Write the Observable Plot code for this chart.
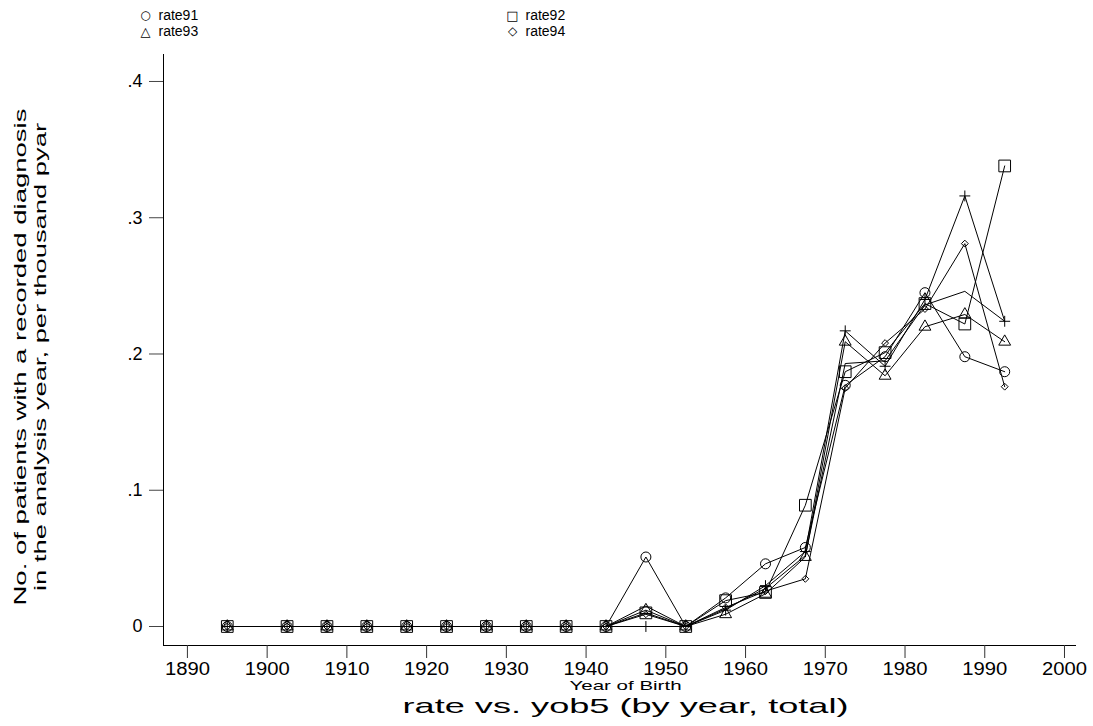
<!DOCTYPE html>
<html>
<head>
<meta charset="utf-8">
<script src="https://cdn.jsdelivr.net/npm/d3@7"></script>
<script src="https://cdn.jsdelivr.net/npm/@observablehq/plot@0.6"></script>
<style>
  html, body { margin: 0; padding: 0; background: #fff; }
  #chart { width: 1093px; height: 726px; }
</style>
</head>
<body>
<div id="chart"></div>
<script>
// ---- data ----
const yob5 = [1895, 1902.5, 1907.5, 1912.5, 1917.5, 1922.5, 1927.5, 1932.5, 1937.5, 1942.5,
              1947.5, 1952.5, 1957.5, 1962.5, 1967.5, 1972.5, 1977.5, 1982.5, 1987.5, 1992.5];
const rate91 = [0,0,0,0,0,0,0,0,0,0, 0.051, 0, 0.021, 0.046, 0.058, 0.177, 0.198, 0.245, 0.198, 0.187];
const rate92 = [0,0,0,0,0,0,0,0,0,0, 0.010, 0, 0.019, 0.025, 0.089, 0.187, 0.201, 0.237, 0.222, 0.338];
const rate93 = [0,0,0,0,0,0,0,0,0,0, 0.012, 0, 0.009, 0.024, 0.051, 0.209, 0.184, 0.220, 0.229, 0.209];
const rate94 = [0,0,0,0,0,0,0,0,0,0, 0.009, 0, 0.014, 0.026, 0.035, 0.175, 0.208, 0.233, 0.281, 0.176];
const rate95 = [0,0,0,0,0,0,0,0,0,0, 0.000, 0, 0.012, 0.030, 0.055, 0.217, 0.191, 0.240, 0.316, 0.224];
const total  = [0,0,0,0,0,0,0,0,0,0, 0.015, 0, 0.013, 0.028, 0.052, 0.193, 0.195, 0.236, 0.246, 0.224];

const seriesNames = ["rate91", "rate92", "rate93", "rate94", "rate95", "total"];
const seriesValues = [rate91, rate92, rate93, rate94, rate95, total];
const seriesSymbols = ["circle", "square", "triangle", "diamond2", "plus", null];
const seriesSymbolR = [5, 6.6, 4.4, 3.1, 3.6, 0];

const legendNames = ["rate91", "rate92", "rate93", "rate94"];
const legendGlyphs = ["○", "□", "△", "◇"];
const legendGlyphSizes = [12, 13, 13, 12];

const xTicks = [1890, 1900, 1910, 1920, 1930, 1940, 1950, 1960, 1970, 1980, 1990, 2000];
const yTicks = [0, 0.1, 0.2, 0.3, 0.4];
const yTickLabels = ["0", ".1", ".2", ".3", ".4"];

const titleText = "rate vs. yob5 (by year, total)";
const xLabelText = "Year of Birth";
const yLabelLine1 = "No. of patients with a recorded diagnosis";
const yLabelLine2 = "in the analysis year, per thousand pyar";

// ---- table ----
const rows = seriesNames.flatMap((name, i) =>
  yob5.map((yr, j) => ({series: name, yob5: yr, rate: seriesValues[i][j]})));

const font = "Liberation Sans, Arial, Helvetica, sans-serif";

const marks = [
  Plot.frame({anchor: "left", stroke: "black"}),
  Plot.frame({anchor: "bottom", stroke: "black"}),
  Plot.axisY({ticks: yTicks, tickFormat: d => yTickLabels[yTicks.indexOf(d)], tickSize: 14,
              tickPadding: 7, fontSize: 18, stroke: "#444", label: null}),
  Plot.axisX({ticks: xTicks, tickFormat: d => String(d), tickSize: 13, tickPadding: 4,
              fontSize: 18, stroke: "#333", label: null}),
  Plot.line(rows, {x: "yob5", y: "rate", z: "series", stroke: "black", strokeWidth: 1})
];

seriesNames.forEach((name, i) => {
  if (!seriesSymbols[i]) return;
  marks.push(Plot.dot(rows.filter(d => d.series === name), {
    x: "yob5", y: "rate", symbol: seriesSymbols[i], r: seriesSymbolR[i],
    stroke: "black", fill: "none", strokeWidth: 1
  }));
});

// legend (two columns, two rows above the plot)
const legendOffsets = [[-18, -44], [349, -44], [-18, -28], [349, -28]];
legendNames.forEach((name, i) => {
  const [dx, dy] = legendOffsets[i];
  marks.push(Plot.text([legendGlyphs[i]], {frameAnchor: "top-left", dx, dy, text: d => d,
    fontSize: legendGlyphSizes[i], fontFamily: "DejaVu Sans", fill: "black", textAnchor: "middle"}));
  marks.push(Plot.text([name], {frameAnchor: "top-left", dx: dx + 13, dy, text: d => d,
    fontSize: 14, fill: "black", textAnchor: "start"}));
});

// titles
marks.push(Plot.text([titleText], {frameAnchor: "bottom", dx: 6, dy: 67, text: d => d,
  fontSize: 21, fill: "black", textAnchor: "middle"}));
marks.push(Plot.text([xLabelText], {frameAnchor: "bottom", dx: 6, dy: 44, text: d => d,
  fontSize: 13, fill: "black", textAnchor: "middle"}));
marks.push(Plot.text([yLabelLine1], {frameAnchor: "left", dx: -143, dy: 7, rotate: -90, text: d => d,
  fontSize: 16, fill: "black", textAnchor: "middle"}));
marks.push(Plot.text([yLabelLine2], {frameAnchor: "left", dx: -123, dy: 7, rotate: -90, text: d => d,
  fontSize: 16, fill: "black", textAnchor: "middle"}));

const chart = Plot.plot({
  width: 1093,
  height: 726,
  marginLeft: 163,
  marginRight: 18,
  marginTop: 54,
  marginBottom: 81,
  style: {fontFamily: font, background: "white", color: "black"},
  x: {domain: [1887, 2001.38]},
  y: {domain: [-0.01394, 0.4198]},
  marks
});

// stretch labels like the original (wide rendering)
const stretch = new Map([[titleText, 446], [xLabelText, 112], [yLabelLine1, 497], [yLabelLine2, 468]]);
xTicks.forEach(t => stretch.set(String(t), 45));
chart.querySelectorAll("text").forEach(t => {
  const len = stretch.get(t.textContent);
  if (len) {
    t.setAttribute("textLength", len);
    t.setAttribute("lengthAdjust", "spacingAndGlyphs");
  }
});

document.getElementById("chart").appendChild(chart);
</script>
</body>
</html>
